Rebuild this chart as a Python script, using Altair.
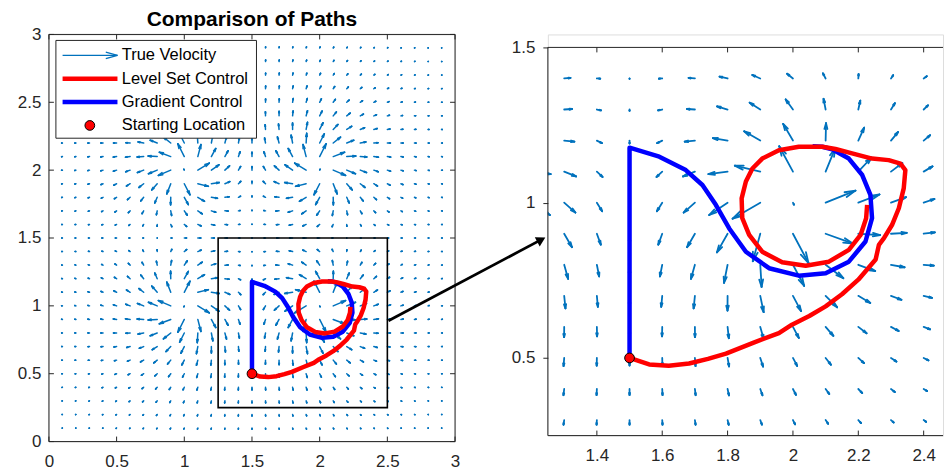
import math
import altair as alt
import pandas as pd

# ---------------- data ----------------
# velocity field: four swirling sources (centre, spin: +1 counter-clockwise, -1 clockwise)
src_x = [1.0, 1.0, 2.0, 2.0]
src_y = [1.0, 2.0, 1.0, 2.0]
src_spin = [-1, 1, 1, -1]
src_strength = [0.126, 0.126, 0.126, 0.126]
src_decay = 0.29
src_swirl = 0.5
grid_vals = [round(0.1 * k, 1) for k in range(1, 30)]

# Gradient Control path
blue_x = [1.5, 1.5, 1.591, 1.672, 1.723, 1.764, 1.805, 1.856, 1.927, 2.018, 2.10, 2.171,
          2.222, 2.242, 2.237, 2.212, 2.171, 2.12, 2.09, 2.06]
blue_y = [0.5, 1.177, 1.148, 1.105, 1.057, 0.993, 0.917, 0.842, 0.789, 0.765, 0.773, 0.810,
          0.875, 0.950, 1.025, 1.089, 1.142, 1.172, 1.18, 1.182]

# Level Set Control path
red_x = [1.5, 1.56, 1.62, 1.682, 1.74, 1.795, 1.876, 1.957, 1.997, 2.05, 2.10, 2.15, 2.20,
         2.253, 2.263, 2.278, 2.303, 2.324, 2.339, 2.344, 2.329, 2.293, 2.242, 2.181, 2.13,
         2.09, 2.018, 1.957, 1.906, 1.876, 1.856, 1.843, 1.845, 1.866, 1.906, 1.967, 2.039,
         2.11, 2.171, 2.207, 2.224, 2.227]
red_y = [0.5, 0.479, 0.475, 0.482, 0.497, 0.514, 0.548, 0.580, 0.607, 0.635, 0.666, 0.705,
         0.752, 0.817, 0.864, 0.885, 0.928, 0.982, 1.046, 1.105, 1.126, 1.137, 1.142, 1.159,
         1.173, 1.18, 1.18, 1.169, 1.142, 1.11, 1.068, 1.014, 0.95, 0.896, 0.842, 0.808,
         0.797, 0.81, 0.848, 0.896, 0.95, 0.993]

start_x = [1.5]
start_y = [0.5]

zoom_x = [1.25, 2.5]
zoom_y = [0.25, 1.5]

left_ticks = [0, 0.5, 1, 1.5, 2, 2.5, 3]
right_xticks = [1.4, 1.6, 1.8, 2.0, 2.2, 2.4]
right_yticks = [0.5, 1.0, 1.5]

legend_labels = ["True Velocity", "Level Set Control", "Gradient Control", "Starting Location"]
title_text = "Comparison of Paths"

# annotation arrow (left-panel data coordinates)
ann_x = [2.508, 3.637]
ann_y = [0.89, 1.488]

# ---------------- styling ----------------
QCOL = "#0072BD"
AXC = "#262626"
FONT = "Liberation Sans"
LW, LH = 407, 408
RW, RH = 396, 402
R_XMAX = 1.25 + RW / 327.5
R_YMAX = 0.25 + RH / 311.2


def velocity(px, py):
    u = v = 0.0
    for cx, cy, sp, a in zip(src_x, src_y, src_spin, src_strength):
        dx, dy = px - cx, py - cy
        r = math.hypot(dx, dy)
        if r < 1e-9:
            continue
        f = a * math.exp(-r / src_decay)
        ex, ey = dx / r, dy / r
        u += f * (ex - src_swirl * sp * ey)
        v += f * (ey + src_swirl * sp * ex)
    return u, v


rows = []
al, be = 0.33, 0.25
for gx in grid_vals:
    for gy in grid_vals:
        u, v = velocity(gx, gy)
        tx, ty = gx + u, gy + v
        rows.append((gx, gy, tx, ty))
        rows.append((tx, ty, tx - al * (u + be * v), ty - al * (v - be * u)))
        rows.append((tx, ty, tx - al * (u - be * v), ty - al * (v + be * u)))
quiver = pd.DataFrame(rows, columns=["x", "y", "x2", "y2"])

blue_df = pd.DataFrame({"x": blue_x, "y": blue_y, "i": range(len(blue_x))})
red_df = pd.DataFrame({"x": red_x, "y": red_y, "i": range(len(red_x))})
start_df = pd.DataFrame({"x": start_x, "y": start_y})


def axes(xdom, ydom, xvals, yvals, ytick):
    xs = alt.Scale(domain=xdom, nice=False, zero=False)
    ys = alt.Scale(domain=ydom, nice=False, zero=False)
    xa = alt.Axis(values=xvals, format="~g", domain=False, ticks=False, grid=False,
                  labelFontSize=17, labelFont=FONT, labelColor=AXC, labelPadding=12,
                  title=None, labelFlush=False, labelOverlap=False)
    ya = alt.Axis(values=yvals, format="~g", domain=False, ticks=ytick, tickSize=5,
                  tickColor=AXC, grid=False, labelFontSize=17, labelFont=FONT,
                  labelColor=AXC, labelPadding=8, title=None, labelFlush=False,
                  labelOverlap=False)

    def X(f):
        return alt.X(f, type="quantitative", scale=xs, axis=xa)

    def Y(f):
        return alt.Y(f, type="quantitative", scale=ys, axis=ya)
    return X, Y


def frame_layers(X, Y, xlo, xhi, ylo, yhi, xticks, yticks, W, H, top_px, right, left_in):
    segs = [(xlo, ylo, xlo, yhi), (xlo, ylo, xhi, ylo), (xlo, yhi, xhi, yhi)]
    if right:
        segs.append((xhi, ylo, xhi, yhi))
    fr = pd.DataFrame(segs, columns=["x", "y", "x2", "y2"])
    out = [alt.Chart(fr).mark_rule(color=AXC, strokeWidth=1)
           .encode(x=X("x"), y=Y("y"), x2="x2", y2="y2")]
    tx = pd.DataFrame({"t": xticks})
    out.append(alt.Chart(tx).mark_rule(color=AXC, strokeWidth=1)
               .encode(x=X("t"), y=alt.value(H), y2=alt.value(H - 5)))
    out.append(alt.Chart(tx).mark_rule(color=AXC, strokeWidth=1)
               .encode(x=X("t"), y=alt.value(top_px), y2=alt.value(top_px + 5)))
    ty = pd.DataFrame({"t": yticks})
    if left_in:
        out.append(alt.Chart(ty).mark_rule(color=AXC, strokeWidth=1)
                   .encode(y=Y("t"), x=alt.value(0), x2=alt.value(5)))
    if right:
        out.append(alt.Chart(ty).mark_rule(color=AXC, strokeWidth=1)
                   .encode(y=Y("t"), x=alt.value(W), x2=alt.value(W - 5)))
    return out


def path_layers(X, Y, clip):
    return [
        alt.Chart(blue_df).mark_line(color="#0000FF", strokeWidth=4.5, clip=clip,
                                     strokeJoin="round", strokeCap="butt")
        .encode(x=X("x"), y=Y("y"), order="i:Q"),
        alt.Chart(red_df).mark_line(color="#FF0000", strokeWidth=4.5, clip=clip,
                                    strokeJoin="round", strokeCap="butt")
        .encode(x=X("x"), y=Y("y"), order="i:Q"),
        alt.Chart(start_df).mark_point(filled=True, fill="#FF0000", stroke="black",
                                       strokeWidth=1, size=95, opacity=1, clip=clip)
        .encode(x=X("x"), y=Y("y")),
    ]


# ---------------- left panel ----------------
LX, LY = axes([0, 3], [0, 3], left_ticks, left_ticks, False)
left_layers = [alt.Chart(quiver).mark_rule(color=QCOL, strokeWidth=1.5, strokeCap="round")
               .encode(x=LX("x"), y=LY("y"), x2="x2", y2="y2")]
zoom_df = pd.DataFrame({"x": [zoom_x[0]], "x2": [zoom_x[1]], "y": [zoom_y[0]], "y2": [zoom_y[1]]})
left_layers.append(alt.Chart(zoom_df).mark_rect(filled=False, stroke="black", strokeWidth=1.6)
                   .encode(x=LX("x"), x2="x2", y=LY("y"), y2="y2"))
left_layers += path_layers(LX, LY, False)
left_layers += frame_layers(LX, LY, 0, 3, 0, 3, left_ticks, left_ticks, LW, LH, 0, True, True)

# annotation arrow towards the zoomed panel
ann_df = pd.DataFrame({"x": [ann_x[0]], "y": [ann_y[0]], "x2": [ann_x[1]], "y2": [ann_y[1]]})
left_layers.append(alt.Chart(ann_df).mark_rule(color="black", strokeWidth=2.8, clip=False)
                   .encode(x=LX("x"), y=LY("y"), x2="x2", y2="y2"))
head_df = pd.DataFrame({"x": [ann_x[1]], "y": [ann_y[1]]})
left_layers.append(alt.Chart(head_df).mark_point(shape="triangle-right", filled=True,
                                                 color="black", size=110, angle=332,
                                                 opacity=1, clip=False)
                   .encode(x=LX("x"), y=LY("y")))

# legend box
one = pd.DataFrame({"a": [0]})
left_layers.append(alt.Chart(one).mark_rect(fill="white", stroke=AXC, strokeWidth=1)
                   .encode(x=alt.value(7), x2=alt.value(208), y=alt.value(6), y2=alt.value(104)))
for k, lab in enumerate(legend_labels):
    yy = 21 + 23.4 * k
    left_layers.append(alt.Chart(one).mark_text(align="left", baseline="middle", fontSize=16.5,
                                                font=FONT, color="black")
                       .encode(x=alt.value(73), y=alt.value(yy), text=alt.value(lab)))
    if k == 0:
        for x1, y1, x2, y2 in [(13.7, yy, 68.7, yy), (68.7, yy, 57, yy - 3.3), (68.7, yy, 57, yy + 3.3)]:
            left_layers.append(alt.Chart(one).mark_rule(color=QCOL, strokeWidth=1.3)
                               .encode(x=alt.value(x1), x2=alt.value(x2),
                                       y=alt.value(y1), y2=alt.value(y2)))
    elif k in (1, 2):
        left_layers.append(alt.Chart(one).mark_rule(color="#FF0000" if k == 1 else "#0000FF",
                                                    strokeWidth=4.5)
                           .encode(x=alt.value(13.7), x2=alt.value(68.7),
                                   y=alt.value(yy), y2=alt.value(yy)))
    else:
        left_layers.append(alt.Chart(one).mark_point(filled=True, fill="#FF0000", stroke="black",
                                                     strokeWidth=1, size=95, opacity=1)
                           .encode(x=alt.value(41), y=alt.value(yy)))

left = alt.layer(*left_layers).properties(
    width=LW, height=LH,
    title=alt.TitleParams(title_text, fontSize=21, fontWeight="bold", font=FONT,
                          anchor="middle", offset=-5, color="black"))

# ---------------- right panel ----------------
RX, RY = axes([1.25, R_XMAX], [0.25, R_YMAX], right_xticks, right_yticks, True)
rq = quiver[(quiver.x > 1.1) & (quiver.x < 2.6) & (quiver.y > 0.1) & (quiver.y < 1.45)]
right_layers = [alt.Chart(rq).mark_rule(color=QCOL, strokeWidth=1.8, strokeCap="round", clip=True)
                .encode(x=RX("x"), y=RY("y"), x2="x2", y2="y2")]
right_layers += path_layers(RX, RY, True)
right_layers += frame_layers(RX, RY, 1.25, R_XMAX, 0.25, 1.5, right_xticks, right_yticks,
                             RW, RH, 13, False, False)
right = alt.layer(*right_layers).properties(width=RW, height=RH)

chart = (alt.hconcat(left, right, spacing=93, bounds="flush")
         .properties(padding={"left": 8, "top": 0, "right": 0, "bottom": 0},
                     background="white")
         .configure_view(strokeWidth=0)
         .configure(font=FONT))

chart.save("out.html", embed_options={"renderer": "svg", "actions": False})
